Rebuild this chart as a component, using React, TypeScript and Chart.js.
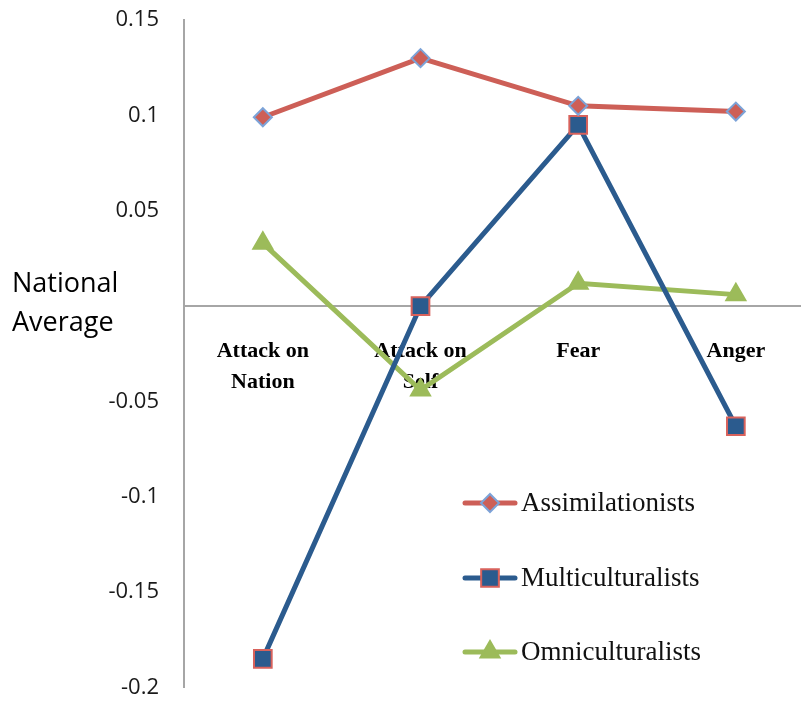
import React, { useEffect, useRef } from "react";
import { Chart, registerables } from "chart.js";
import { drawPoint } from "chart.js/helpers";

Chart.register(...registerables);

const categories: string[][] = [
  ["Attack on", "Nation"],
  ["Attack on", "Self"],
  ["Fear"],
  ["Anger"],
];
const seriesNames = ["Assimilationists", "Multiculturalists", "Omniculturalists"];
const assimilationists = [0.099, 0.13, 0.105, 0.102];
const multiculturalists = [-0.185, 0.0, 0.095, -0.063];
const omniculturalists = [0.033, -0.044, 0.012, 0.006];
const yTicks = [0.15, 0.1, 0.05, 0, -0.05, -0.1, -0.15, -0.2];
const yTitle = ["National", "Average"];

const RED = "#CD5F57";
const LIGHTBLUE = "#7CA3D8";
const BLUE = "#2B5B8E";
const PINK = "#D8625C";
const GREEN = "#9CBB5A";

const styles = [
  { color: RED, pointStyle: "rectRot", radius: 9, border: LIGHTBLUE },
  { color: BLUE, pointStyle: "rect", radius: 12.5, border: PINK },
  { color: GREEN, pointStyle: "triangle", radius: 11, border: GREEN },
];

const toXY = (arr: number[]) => arr.map((v, i) => ({ x: i, y: v }));

const overlayPlugin = {
  id: "overlay",
  afterDraw(chart: any) {
    const ctx = chart.ctx as CanvasRenderingContext2D;
    ctx.save();
    // y axis title, horizontal
    ctx.fillStyle = "#000";
    ctx.font = "27px 'Open Sans'";
    ctx.textAlign = "left";
    ctx.textBaseline = "middle";
    ctx.fillText(yTitle[0], 12, 284);
    ctx.fillText(yTitle[1], 12, 323);

    // legend
    const ys = [503, 578, 652];
    seriesNames.forEach((name, i) => {
      const s = styles[i];
      const y = ys[i];
      ctx.strokeStyle = s.color;
      ctx.lineWidth = 5;
      ctx.lineCap = "round";
      ctx.beginPath();
      ctx.moveTo(465, y);
      ctx.lineTo(515, y);
      ctx.stroke();
      ctx.fillStyle = s.color;
      ctx.strokeStyle = s.border;
      ctx.lineWidth = 2;
      drawPoint(ctx, { pointStyle: s.pointStyle as any, radius: s.radius, borderWidth: 2, rotation: 0 }, 490, y);
      ctx.fillStyle = "#111";
      ctx.font = "27px 'Liberation Serif'";
      ctx.textAlign = "left";
      ctx.textBaseline = "middle";
      ctx.fillText(name, 521, y + 1);
    });
    ctx.restore();
  },
};

export default function App() {
  const ref = useRef<HTMLCanvasElement | null>(null);
  useEffect(() => {
    if (!ref.current) return;
    const data = [assimilationists, multiculturalists, omniculturalists];
    const chart = new Chart(ref.current, {
      type: "line",
      data: {
        datasets: data.map((d, i) => ({
          label: seriesNames[i],
          data: toXY(d),
          borderColor: styles[i].color,
          backgroundColor: styles[i].color,
          borderWidth: 5,
          pointStyle: styles[i].pointStyle as any,
          pointRadius: styles[i].radius,
          pointBorderColor: styles[i].border,
          pointBackgroundColor: styles[i].color,
          pointBorderWidth: 2,
          tension: 0,
          fill: false,
          clip: false as any,
        })),
      },
      options: {
        animation: false,
        responsive: true,
        maintainAspectRatio: false,
        layout: { padding: { top: 20, bottom: 14, left: 0, right: 4 } },
        plugins: { legend: { display: false }, tooltip: { enabled: false } },
        scales: {
          x: {
            type: "linear",
            position: { y: 0 } as any,
            min: -0.5,
            max: 3.41,
            grid: { display: false, drawTicks: false },
            border: { display: true, color: "#A6A6A6", width: 2 },
            afterBuildTicks: (scale: any) => {
              scale.ticks = categories.map((_, i) => ({ value: i }));
            },
            afterFit: (scale: any) => {
              scale.paddingLeft = 0;
              scale.paddingRight = 0;
              scale.paddingTop = 0;
              scale.paddingBottom = 0;
            },
            ticks: {
              autoSkip: false,
              maxRotation: 0,
              padding: 30,
              color: "#000",
              font: { family: "'Liberation Serif'", weight: "bold", size: 22, lineHeight: 1.4 },
              callback: (v: any) => categories[Math.round(Number(v))] ?? "",
            },
          },
          y: {
            type: "linear",
            min: -0.2,
            max: 0.15,
            grid: { display: false, drawTicks: false },
            border: { display: true, color: "#A6A6A6", width: 2 },
            afterBuildTicks: (scale: any) => {
              scale.ticks = yTicks.map((v) => ({ value: v }));
            },
            afterFit: (scale: any) => {
              scale.width = 184;
              scale.paddingTop = 0;
              scale.paddingBottom = 0;
              scale.paddingLeft = 0;
              scale.paddingRight = 0;
            },
            ticks: {
              padding: 25,
              color: "#1a1a1a",
              font: { family: "'Open Sans'", size: 22 },
              callback: (v: any) => {
                const n = Number(v);
                if (Math.abs(n) < 1e-9) return "";
                return String(Math.round(n * 100) / 100);
              },
            },
          },
        },
      },
      plugins: [overlayPlugin],
    });
    return () => chart.destroy();
  }, []);
  return (
    <div style={{ position: "absolute", left: 0, top: 0, width: 804, height: 702, overflow: "hidden", background: "#fff" }}>
      <div style={{ position: "absolute", left: 0, top: 0, width: 815, height: 702 }}>
        <canvas ref={ref} />
      </div>
    </div>
  );
}
